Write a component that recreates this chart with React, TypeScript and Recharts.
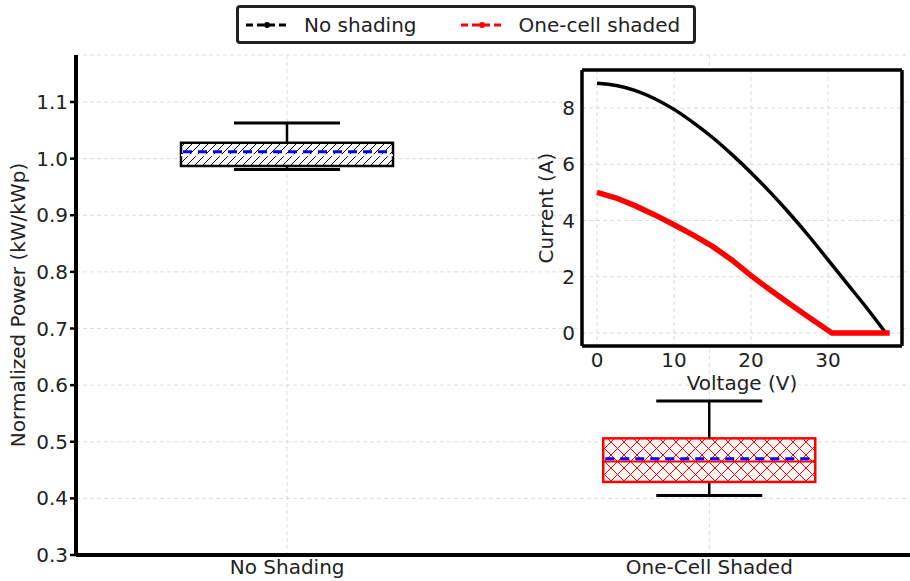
import {
  Bar,
  CartesianGrid,
  ComposedChart,
  Legend,
  Line,
  LineChart,
  XAxis,
  YAxis,
} from 'recharts'

// box plot stats (kW/kWp)
const categories = ['No Shading', 'One-Cell Shaded']
const whiskerLow = [0.981, 0.405]
const q1 = [0.987, 0.429]
const median = [1.006, 0.465]
const mean = [1.012, 0.47]
const q3 = [1.028, 0.506]
const whiskerHigh = [1.063, 0.572]
const powerTicks = [0.3, 0.4, 0.5, 0.6, 0.7, 0.8, 0.9, 1.0, 1.1]

// inset I-V curves
const voltageNoShade = [0, 2.5, 5, 7.5, 10, 12.5, 15, 17.5, 20, 22.5, 25, 27.5, 30, 32.5, 35, 37.5]
const currentNoShade = [8.88, 8.8, 8.62, 8.33, 7.95, 7.48, 6.95, 6.35, 5.7, 5.0, 4.25, 3.45, 2.6, 1.75, 0.9, 0]
const voltageShaded = [0, 2.5, 5, 7.5, 10, 12.5, 15, 17.5, 20, 22.5, 25, 27.5, 30.5, 34, 38]
const currentShaded = [5.0, 4.8, 4.52, 4.2, 3.85, 3.48, 3.08, 2.6, 2.04, 1.53, 1.04, 0.56, 0, 0, 0]
const voltageTicks = [0, 10, 20, 30]
const currentTicks = [0, 2, 4, 6, 8]

const legendItems = [
  { label: 'No shading', color: '#000000' },
  { label: 'One-cell shaded', color: '#ff0000' },
]

const boxData = categories.map((name, i) => ({
  name,
  min: whiskerLow[i],
  q1: q1[i],
  median: median[i],
  mean: mean[i],
  q3: q3[i],
  max: whiskerHigh[i],
  base: whiskerLow[i],
  lowW: q1[i] - whiskerLow[i],
  box: q3[i] - q1[i],
  highW: whiskerHigh[i] - q3[i],
}))

const noShadeData = voltageNoShade.map((v, i) => ({ v, i: currentNoShade[i] }))
const shadedData = voltageShaded.map((v, i) => ({ v, i: currentShaded[i] }))

const boxStyles = [
  { pattern: 'hatchDiag', edge: '#000000', median: '#ffffff' },
  { pattern: 'hatchCross', edge: '#ff0000', median: '#ff0000' },
]

const FONT = 'DejaVu Sans'
const tickStyle = { fontSize: 20, fill: '#222', fontFamily: FONT }

const EmptyShape = () => <g />

const LowWhisker = (props: any) => {
  const { x, y, width, height } = props
  const top = Math.min(y, y + height)
  const bottom = Math.max(y, y + height)
  const cx = x + width / 2
  return (
    <g>
      <line x1={cx} x2={cx} y1={top} y2={bottom} stroke="#000" strokeWidth={2.5} />
      <line x1={cx - width / 4} x2={cx + width / 4} y1={bottom} y2={bottom} stroke="#000" strokeWidth={3} />
    </g>
  )
}

const HighWhisker = (props: any) => {
  const { x, y, width, height } = props
  const top = Math.min(y, y + height)
  const bottom = Math.max(y, y + height)
  const cx = x + width / 2
  return (
    <g>
      <line x1={cx} x2={cx} y1={top} y2={bottom} stroke="#000" strokeWidth={2.5} />
      <line x1={cx - width / 4} x2={cx + width / 4} y1={top} y2={top} stroke="#000" strokeWidth={3} />
    </g>
  )
}

const BoxShape = (props: any) => {
  const { x, y, width, height, payload, index } = props
  const top = Math.min(y, y + height)
  const h = Math.abs(height)
  const st = boxStyles[index] || boxStyles[0]
  // linear axis, so interpolate inside the q1..q3 rect
  const yOf = (v: number) => top + (h * (payload.q3 - v)) / (payload.q3 - payload.q1)
  return (
    <g>
      <rect x={x} y={top} width={width} height={h} fill={`url(#${st.pattern})`} stroke={st.edge} strokeWidth={2.5} />
      <line x1={x} x2={x + width} y1={yOf(payload.median)} y2={yOf(payload.median)} stroke={st.median} strokeWidth={2} />
      <line
        x1={x + 2}
        x2={x + width - 2}
        y1={yOf(payload.mean)}
        y2={yOf(payload.mean)}
        stroke="#0000ff"
        strokeWidth={3}
        strokeDasharray="9 6"
      />
    </g>
  )
}

const LegendBox = () => (
  <div
    style={{
      display: 'flex',
      alignItems: 'center',
      height: 33,
      border: '3px solid #222',
      borderRadius: 4,
      background: '#fff',
      paddingLeft: 7,
      fontFamily: FONT,
      fontSize: 20,
      color: '#222',
    }}
  >
    {legendItems.map((item, idx) => (
      <div key={idx} style={{ display: 'flex', alignItems: 'center', marginRight: idx === 0 ? 44 : 0 }}>
        <svg width={42} height={10} style={{ marginRight: 16 }}>
          <line x1={0} x2={42} y1={5} y2={5} stroke={item.color} strokeWidth={3} strokeDasharray="7 4" />
          <circle cx={21} cy={5} r={3} fill={item.color} />
        </svg>
        <span>{item.label}</span>
      </div>
    ))}
  </div>
)

export default function App() {
  return (
    <div
      style={{
        position: 'absolute',
        left: 0,
        top: 0,
        width: 910,
        height: 581,
        overflow: 'hidden',
        background: '#fff',
        fontFamily: FONT,
      }}
    >
      <ComposedChart width={930} height={581} data={boxData} margin={{ top: 55, right: 9.5, bottom: 0, left: 0 }}>
        <defs>
          <pattern id="hatchDiag" patternUnits="userSpaceOnUse" width={8} height={8}>
            <rect width={8} height={8} fill="#fff" />
            <path d="M-2,2 l4,-4 M0,8 l8,-8 M6,10 l4,-4" stroke="#000" strokeWidth={1} />
          </pattern>
          <pattern id="hatchCross" patternUnits="userSpaceOnUse" width={13} height={13}>
            <rect width={13} height={13} fill="#fff6f6" />
            <path d="M0,0 L13,13 M13,0 L0,13" stroke="#ff0000" strokeWidth={1} />
          </pattern>
        </defs>
        <CartesianGrid stroke="#d4d4d4" strokeDasharray="4 3" strokeWidth={0.8} />
        <XAxis
          dataKey="name"
          height={26}
          tickLine={false}
          tickSize={0}
          tickMargin={5}
          tick={tickStyle}
          axisLine={{ stroke: '#000', strokeWidth: 4 }}
        />
        <XAxis xAxisId="xin" dataKey="name" mirror tick={false} tickSize={5} axisLine={false} tickLine={{ stroke: '#000', strokeWidth: 2 }} />
        <XAxis
          xAxisId="top"
          dataKey="name"
          orientation="top"
          height={0}
          tick={false}
          tickLine={false}
          axisLine={{ stroke: '#000', strokeWidth: 4 }}
        />
        <YAxis
          width={76}
          type="number"
          domain={[0.3, 1.183]}
          allowDataOverflow
          ticks={powerTicks}
          tickFormatter={(v: number) => v.toFixed(1)}
          tick={tickStyle}
          tickSize={6}
          tickMargin={2}
          tickLine={{ stroke: '#000', strokeWidth: 2.5 }}
          axisLine={{ stroke: '#000', strokeWidth: 4 }}
          label={{
            value: 'Normalized Power (kW/kWp)',
            angle: -90,
            position: 'insideLeft',
            offset: 18,
            style: { textAnchor: 'middle', fontSize: 20, fill: '#222', fontFamily: FONT },
          }}
        />
        <Legend verticalAlign="middle" align="center" content={LegendBox} wrapperStyle={{ top: 5, left: 236, width: 460 }} />
        <Bar dataKey="base" stackId="box" barSize={212} shape={EmptyShape} isAnimationActive={false} legendType="none" />
        <Bar dataKey="lowW" stackId="box" barSize={212} shape={LowWhisker} isAnimationActive={false} legendType="none" />
        <Bar dataKey="box" stackId="box" barSize={212} shape={BoxShape} isAnimationActive={false} legendType="none" />
        <Bar dataKey="highW" stackId="box" barSize={212} shape={HighWhisker} isAnimationActive={false} legendType="none" />
      </ComposedChart>

      <div style={{ position: 'absolute', left: 520, top: 60 }}>
        <LineChart width={390} height={340} margin={{ top: 10, right: 8, bottom: 0, left: 0 }}>
          <CartesianGrid stroke="#d0d0d0" strokeDasharray="4 3" strokeWidth={0.8} fill="#fff" />
          <XAxis
            dataKey="v"
            type="number"
            domain={[-1.95, 39.6]}
            allowDataOverflow
            ticks={voltageTicks}
            height={54}
            tickSize={0}
            tickMargin={7}
            tick={tickStyle}
            axisLine={{ stroke: '#000', strokeWidth: 3.5 }}
            label={{
              value: 'Voltage (V)',
              position: 'insideBottom',
              offset: 10,
              style: { fontSize: 20, fill: '#222', fontFamily: FONT },
            }}
          />
          <XAxis xAxisId="bIn" dataKey="v" type="number" domain={[-1.95, 39.6]} allowDataOverflow ticks={voltageTicks} mirror tick={false} tickSize={6} axisLine={false} tickLine={{ stroke: '#000', strokeWidth: 2.5 }} />
          <XAxis
            xAxisId="top"
            dataKey="v"
            type="number"
            orientation="top"
            domain={[-1.95, 39.6]}
            allowDataOverflow
            ticks={voltageTicks}
            mirror
            tick={false}
            tickSize={6}
            axisLine={{ stroke: '#000', strokeWidth: 3.5 }}
            tickLine={{ stroke: '#000', strokeWidth: 2.5 }}
          />
          <YAxis
            type="number"
            width={62}
            domain={[-0.46, 9.35]}
            allowDataOverflow
            ticks={currentTicks}
            tickSize={0}
            tickMargin={7}
            tick={tickStyle}
            axisLine={{ stroke: '#000', strokeWidth: 3.5 }}
            label={{
              value: 'Current (A)',
              angle: -90,
              position: 'insideLeft',
              offset: 26,
              style: { textAnchor: 'middle', fontSize: 20, fill: '#222', fontFamily: FONT },
            }}
          />
          <YAxis yAxisId="lIn" type="number" domain={[-0.46, 9.35]} allowDataOverflow ticks={currentTicks} mirror tick={false} tickSize={6} axisLine={false} tickLine={{ stroke: '#000', strokeWidth: 2.5 }} />
          <YAxis
            yAxisId="right"
            type="number"
            orientation="right"
            domain={[-0.46, 9.35]}
            allowDataOverflow
            ticks={currentTicks}
            mirror
            tick={false}
            tickSize={6}
            axisLine={{ stroke: '#000', strokeWidth: 3.5 }}
            tickLine={{ stroke: '#000', strokeWidth: 2.5 }}
          />
          <Line data={noShadeData} dataKey="i" type="monotone" stroke="#000" strokeWidth={3.5} dot={false} isAnimationActive={false} />
          <Line data={shadedData} dataKey="i" type="linear" stroke="#ff0000" strokeWidth={5.5} dot={false} isAnimationActive={false} />
        </LineChart>
      </div>
    </div>
  )
}
